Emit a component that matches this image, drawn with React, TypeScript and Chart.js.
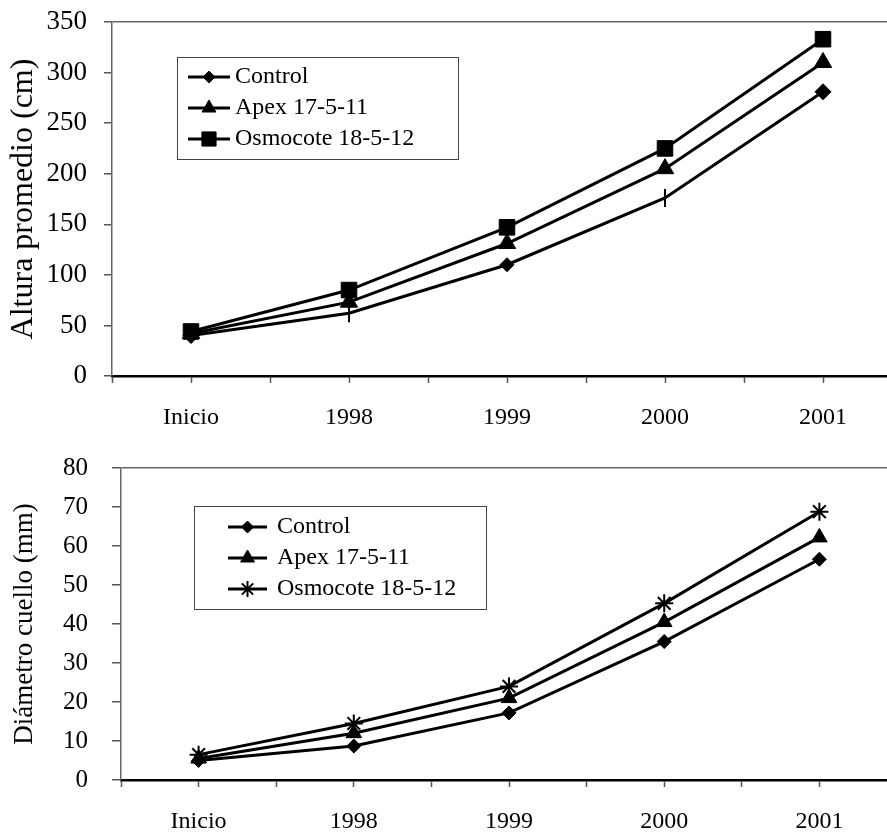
import React, { useEffect, useRef } from 'react';
import { Chart, registerables } from 'chart.js';
import { drawPoint } from 'chart.js/helpers';

Chart.register(...registerables);

// ---- data ----
const categories = ['Inicio', '1998', '1999', '2000', '2001'];
const seriesNames = ['Control', 'Apex 17-5-11', 'Osmocote 18-5-12'];

const alturaControl = [40, 62, 110, 176, 281];
const alturaApex = [42, 73, 131, 205, 310];
const alturaOsmocote = [44, 85, 147, 225, 333];

const diametroControl = [5, 8.7, 17.2, 35.5, 56.6];
const diametroApex = [5.5, 12, 21, 40.5, 62.2];
const diametroOsmocote = [6.5, 14.5, 24, 45.3, 68.8];

const alturaAxis = { min: 0, max: 350, step: 50, title: 'Altura promedio (cm)' };
const diametroAxis = { min: 0, max: 80, step: 10, title: 'Diámetro cuello (mm)' };

const FONT = "'Liberation Serif', 'Times New Roman', serif";

const legendBoxPlugin = {
  id: 'boxLegend',
  afterDraw(chart: any, _args: any, o: any) {
    const { ctx } = chart;
    ctx.save();
    ctx.strokeStyle = '#444';
    ctx.lineWidth = 1;
    ctx.strokeRect(o.x + 0.5, o.y + 0.5, o.w, o.h);
    chart.data.datasets.forEach((ds: any, i: number) => {
      const y = o.rows[i];
      ctx.strokeStyle = '#000';
      ctx.lineWidth = 3;
      ctx.beginPath();
      ctx.moveTo(o.x1, y);
      ctx.lineTo(o.x2, y);
      ctx.stroke();
      const m = o.markers[i];
      ctx.fillStyle = '#000';
      ctx.strokeStyle = '#000';
      ctx.lineWidth = m.borderWidth;
      drawPoint(ctx, { pointStyle: m.style, radius: m.radius, rotation: 0, borderWidth: m.borderWidth }, (o.x1 + o.x2) / 2, y);
      ctx.fillStyle = '#000';
      ctx.font = `${o.fontSize}px ${FONT}`;
      ctx.textBaseline = 'middle';
      ctx.textAlign = 'left';
      ctx.fillText(ds.label, o.textX, y);
    });
    ctx.restore();
  },
};

function toXY(values: number[]) {
  return values.map((v, i) => ({ x: i, y: v }));
}

interface PanelProps {
  width: number;
  height: number;
  top: number;
  area: { left: number; top: number; bottom: number; right: number };
  axis: { min: number; max: number; step: number; title: string };
  datasets: any[];
  yFont: number;
  yTickLen: number;
  yPad: number;
  titleFont: number;
  titlePad: number;
  legend: any;
}

function Panel(p: PanelProps) {
  const ref = useRef<HTMLCanvasElement>(null);
  useEffect(() => {
    if (!ref.current) return;
    const chart = new Chart(ref.current, {
      type: 'line',
      data: { datasets: p.datasets },
      plugins: [legendBoxPlugin],
      options: {
        animation: false,
        responsive: false,
        maintainAspectRatio: false,
        layout: { padding: { left: 0, top: p.area.top, right: p.width - p.area.right, bottom: 0 } },
        plugins: {
          legend: { display: false },
          tooltip: { enabled: false },
          boxLegend: p.legend,
        } as any,
        scales: {
          x: {
            type: 'linear',
            min: -0.5,
            max: 4.5,
            afterFit: (s: any) => {
              s.height = p.height - p.area.bottom;
              s.paddingLeft = 0;
              s.paddingRight = 0;
            },
            ticks: {
              stepSize: 0.5,
              autoSkip: false,
              maxRotation: 0,
              padding: 20,
              color: '#000',
              font: { family: FONT, size: 24 },
              callback: (v: any) => {
                const n = Number(v);
                return Math.abs(n - Math.round(n)) < 1e-6 ? categories[Math.round(n)] ?? '' : '';
              },
            },
            grid: { drawOnChartArea: false, drawTicks: true, tickLength: 7, tickColor: '#555', tickWidth: 1.5 },
            border: { display: true, color: '#000', width: 2.5 },
          },
          y: {
            type: 'linear',
            min: p.axis.min,
            max: p.axis.max,
            afterFit: (s: any) => {
              s.width = p.area.left;
              s.paddingTop = 0;
              s.paddingBottom = 0;
            },
            ticks: {
              stepSize: p.axis.step,
              padding: p.yPad,
              color: '#000',
              font: { family: FONT, size: p.yFont },
            },
            grid: {
              drawTicks: true,
              tickLength: p.yTickLen,
              tickColor: '#555',
              tickWidth: 1.5,
              lineWidth: 1.5,
              color: (c: any) => (c.tick && c.tick.value === p.axis.max ? '#666' : 'rgba(0,0,0,0)'),
            },
            border: { display: true, color: '#666', width: 1.5 },
            title: {
              display: true,
              text: p.axis.title,
              color: '#000',
              font: { family: FONT, size: p.titleFont, lineHeight: 1 },
              padding: { top: p.titlePad, bottom: 0 },
            },
          },
        },
      },
    } as any);
    return () => chart.destroy();
  }, []);
  return (
    <canvas
      ref={ref}
      width={p.width}
      height={p.height}
      style={{ position: 'absolute', left: 0, top: p.top, width: p.width, height: p.height }}
    />
  );
}

function lineSet(label: string, values: number[], style: any, radius: any, borderWidth: any, rotation: any = 0) {
  return {
    label,
    data: toXY(values),
    borderColor: '#000',
    backgroundColor: '#000',
    borderWidth: 3,
    pointStyle: style,
    pointRadius: radius,
    pointRotation: rotation,
    pointBorderWidth: borderWidth,
    pointBackgroundColor: '#000',
    pointBorderColor: '#000',
    tension: 0,
    clip: false,
  };
}

export default function App() {
  const topSets = [
    lineSet(seriesNames[0], alturaControl, ['rectRot', 'line', 'rectRot', 'line', 'rectRot'], [8, 9, 7, 9, 8], [1, 2, 1, 2, 1], [0, 90, 0, 90, 0]),
    lineSet(seriesNames[1], alturaApex, 'triangle', 10, 1),
    lineSet(seriesNames[2], alturaOsmocote, 'rect', 11, 1),
  ];
  const bottomSets = [
    lineSet(seriesNames[0], diametroControl, 'rectRot', 7, 1),
    lineSet(seriesNames[1], diametroApex, 'triangle', 9, 1),
    lineSet(seriesNames[2], diametroOsmocote, 'star', 9, 2),
  ];
  const topLegend = {
    x: 177, y: 57, w: 281, h: 102,
    x1: 188, x2: 230, textX: 235,
    rows: [77, 108, 139],
    fontSize: 24,
    markers: [
      { style: 'rectRot', radius: 6, borderWidth: 1 },
      { style: 'triangle', radius: 8, borderWidth: 1 },
      { style: 'rect', radius: 10, borderWidth: 1 },
    ],
  };
  const bottomLegend = {
    x: 194, y: 66, w: 292, h: 103,
    x1: 228, x2: 267, textX: 277,
    rows: [87, 118, 149],
    fontSize: 24,
    markers: [
      { style: 'rectRot', radius: 6, borderWidth: 1 },
      { style: 'triangle', radius: 8, borderWidth: 1 },
      { style: 'star', radius: 8, borderWidth: 2 },
    ],
  };
  return (
    <div style={{ position: 'fixed', left: 0, top: 0, width: 887, height: 833, overflow: 'hidden', background: '#fff' }}>
      <Panel
        width={920}
        height={440}
        top={0}
        area={{ left: 112, top: 22, bottom: 376, right: 902 }}
        axis={alturaAxis}
        datasets={topSets}
        yFont={27}
        yTickLen={8}
        yPad={17}
        titleFont={32}
        titlePad={8}
        legend={topLegend}
      />
      <Panel
        width={910}
        height={393}
        top={440}
        area={{ left: 121, top: 28, bottom: 340, right: 897 }}
        axis={diametroAxis}
        datasets={bottomSets}
        yFont={25}
        yTickLen={9}
        yPad={24}
        titleFont={27}
        titlePad={11}
        legend={bottomLegend}
      />
    </div>
  );
}
